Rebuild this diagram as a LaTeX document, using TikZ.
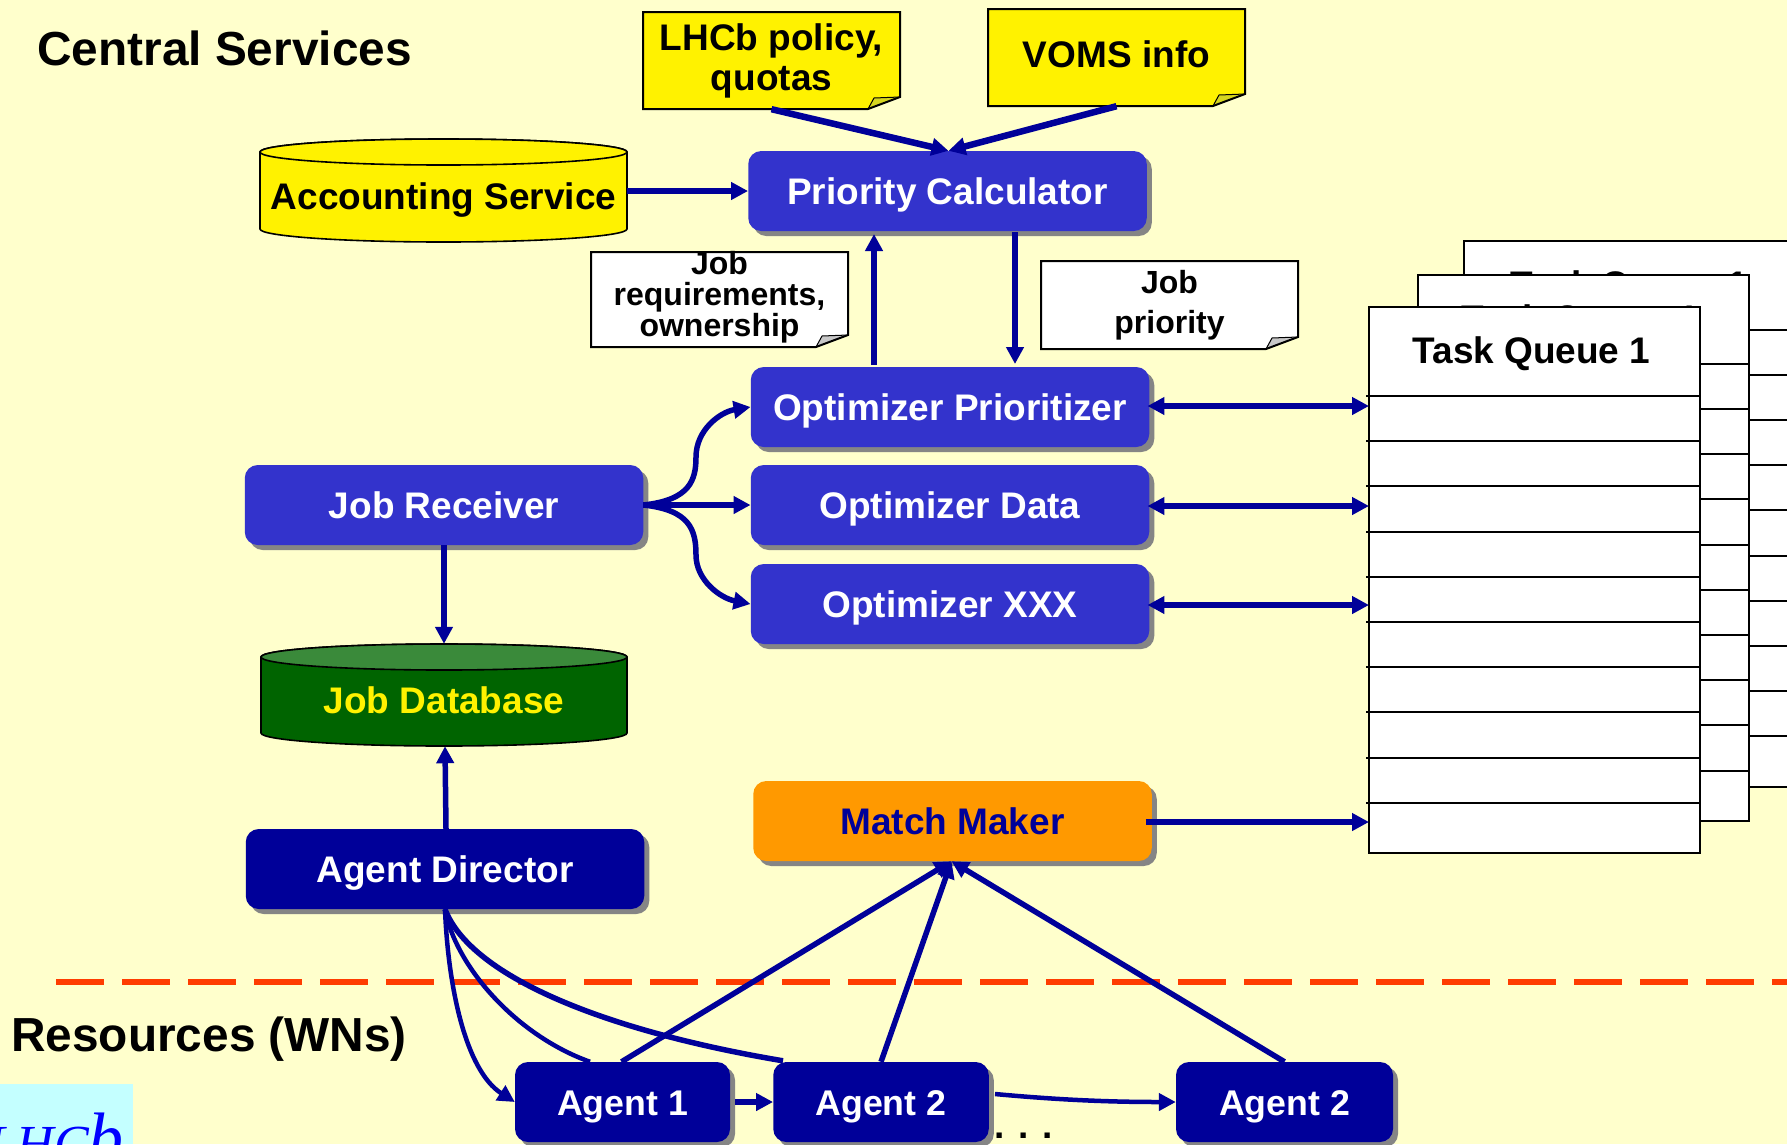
\documentclass[tikz,border=0pt]{standalone}
\usepackage{fontspec}
\setmainfont{Liberation Sans}
\newfontfamily\logofont{Liberation Serif}
\usetikzlibrary{arrows.meta,calc,shadows}
\definecolor{bgc}{HTML}{FFFFCC}
\definecolor{bluebox}{HTML}{3333CC}
\definecolor{navyb}{HTML}{000099}
\definecolor{arrowc}{HTML}{000099}
\definecolor{foldy}{HTML}{D6D620}
\definecolor{foldw}{HTML}{C8C8C8}
\definecolor{dashc}{HTML}{FF3C00}
\definecolor{topgreen}{HTML}{3A8A3A}
\definecolor{bodygreen}{HTML}{006400}
\definecolor{logobg}{HTML}{C4FFFF}
\definecolor{orangeb}{HTML}{FF9900}
\definecolor{shadowc}{HTML}{858585}
\tikzset{
  txt/.style={font=\bfseries\fontsize{37}{38}\selectfont,align=center,inner sep=0pt},
  head/.style={font=\bfseries\fontsize{47.8}{50}\selectfont,inner sep=0pt,anchor=west},
  boxbase/.style={rounded corners=13pt,minimum width=398.5pt,minimum height=80pt,inner sep=0pt,
     font=\bfseries\fontsize{37}{38}\selectfont,align=center,text height=27pt,text depth=0pt,
     general shadow={shadow xshift=5pt,shadow yshift=-5pt,fill=shadowc}},
  bluenode/.style={boxbase,fill=bluebox,text=white},
  navynode/.style={boxbase,fill=navyb,text=white},
  agentnode/.style={navynode,minimum height=80pt,font=\bfseries\fontsize{35.7}{38}\selectfont},
  orangenode/.style={boxbase,fill=orangeb,text=navyb},
  arr/.style={draw=arrowc,line width=5.5pt,-{Triangle[width=17pt,length=17pt]}},
  darr/.style={draw=arrowc,line width=5.5pt,{Triangle[width=17pt,length=17pt]}-{Triangle[width=17pt,length=17pt]}},
  thin arr/.style={draw=arrowc,line width=4.5pt,-{Triangle[width=17pt,length=17pt]}},
  line/.style={draw=arrowc,line width=4.5pt},
  noteline/.style={draw=black,line width=2pt,line join=miter},
  rowline/.style={draw=black,line width=2pt},
}
\newcommand{\paper}[6]{% x0,y0,x1,y1,paper colour,fold colour
  \fill[#5] (#1,#2) -- (#3,#2) -- (#3,#4-12) -- (#3-32,#4) -- (#1,#4) -- cycle;
  \fill[#6] (#3,#4-12) -- (#3-32,#4) -- (#3-26,#4-11) -- cycle;
  \draw[noteline] (#1,#2) -- (#3,#2) -- (#3,#4-12) -- (#3-32,#4) -- (#1,#4) -- cycle;
  \draw[black,line width=1pt] (#3,#4-12) -- (#3-26,#4-11) -- (#3-32,#4);
}
\newcommand{\drum}[6]{% x0,y0,x1,y1,body,top
  \pgfmathsetmacro{\rxv}{(#3-#1)/2}
  \filldraw[fill=#5,draw=black,line width=1.6pt] (#1,#2+13) -- (#1,#4-13)
     arc[start angle=180,end angle=360,x radius=\rxv pt,y radius=13pt] -- (#3,#2+13)
     arc[start angle=0,end angle=180,x radius=\rxv pt,y radius=13pt] -- cycle;
  \filldraw[fill=#6,draw=black,line width=1.6pt] ({(#1+#3)/2},#2+13) ellipse[x radius=\rxv pt,y radius=13pt];
}
\newcommand{\queue}[6]{% x0,y0,x1,y1,firstrow,rowx0
  \filldraw[fill=white,draw=black,line width=2pt] (#1,#2) rectangle (#3,#4);
  \node[txt] at ({(#1+#3)/2-3},#2+46.5) {Task Queue 1};
  \foreach \k in {0,...,9} {
    \draw[rowline] (#6,{#5+\k*45.2}) -- (#3,{#5+\k*45.2});
  }
}
\begin{document}
\begin{tikzpicture}[x=1pt,y=-1pt]
\useasboundingbox (0,0) rectangle (1787,1144);
\fill[bgc] (0,0) rectangle (1787,1144);

% logo
\fill[logobg] (0,1084) rectangle (133,1144);
\begin{scope}
  \clip (0,1084) rectangle (133,1144);
  \node[inner sep=0pt,anchor=base east,text=blue] (logo) at (124,1161) {\logofont\itshape\fontsize{52}{52}\selectfont LHC\fontsize{70}{70}\selectfont b};
\end{scope}

% headings
\node[head] (central) at (37,48) {Central Services};
\node[head] (resources) at (11,1039) {Resources (WNs)};

% task queues (back to front)
\queue{1464}{241}{1800}{787}{329.5}{1749}
\queue{1418}{275}{1749}{821}{363.7}{1699}
\queue{1369}{307}{1700}{853}{396}{1366}

% notes
\paper{643}{12}{900}{109}{yellow}{foldy}
\paper{988}{9}{1245}{106}{yellow}{foldy}
\paper{591}{252}{848}{347}{white}{foldw}
\paper{1041}{261}{1298}{349}{white}{foldw}
\node[txt,font=\bfseries\fontsize{37}{40}\selectfont,minimum width=257pt,minimum height=97pt] (lhcb) at (771.5,60.5) {LHCb policy,\\quotas};
\node[txt,minimum width=257pt,minimum height=103pt] (voms) at (1116.5,54.5) {VOMS info};
\node[txt,font=\bfseries\fontsize{32}{31}\selectfont,minimum width=257pt,minimum height=95pt] (jobreq) at (719.5,297) {Job\\requirements,\\ownership};
\node[txt,font=\bfseries\fontsize{32}{40}\selectfont,minimum width=257pt,minimum height=88pt] (jobprio) at (1169.5,305) {Job\\priority};

% cylinders
\drum{260}{139}{627}{242}{yellow}{yellow}
\node[txt,text height=27pt,text depth=0pt,minimum width=367pt,minimum height=103pt] (acc) at (443.5,196) {Accounting Service};
\drum{261}{644}{627}{746}{bodygreen}{topgreen}
\node[txt,text=yellow,minimum width=366pt,minimum height=102pt] (jobdb) at (444,700) {Job Database};

% boxes
\node[bluenode] (pc) at (947.5,191) {Priority Calculator};
\node[bluenode] (oprio) at (950,407) {Optimizer Prioritizer};
\node[bluenode] (odata) at (950,505) {Optimizer Data};
\node[bluenode] (oxxx) at (950,604) {Optimizer XXX};
\node[bluenode] (jr) at (444,505) {Job Receiver};
\node[navynode] (ad) at (445,869) {Agent Director};
\node[orangenode] (mm) at (952.5,821) {Match Maker};
\node[agentnode,minimum width=215pt] (a1) at (622.5,1102) {Agent 1};
\node[agentnode,minimum width=215.5pt] (a2) at (881,1102) {Agent 2};
\node[agentnode,minimum width=217pt] (a3) at (1284.5,1102) {Agent 2};
\node[inner sep=0pt,font=\bfseries\fontsize{37}{38}\selectfont] (dots) at (1024,1136) {. . .};

% dashed separator
\coordinate (dashL) at (56,982);
\coordinate (dashR) at (1787,982);
\draw[dashc,line width=6pt,dash pattern=on 48pt off 18pt] (dashL) -- (dashR);

% anchors on the queue's left side and the vertical arrows
\coordinate (qa) at (1369,406);
\coordinate (qb) at (1369,506);
\coordinate (qc) at (1369,605);
\coordinate (qd) at (1369,822);
\coordinate (upx) at (874,365);
\coordinate (upt) at (874,234);
\coordinate (dnx) at (1015,232);
\coordinate (dnt) at (1015,364);

% connectors
\draw[arr,line width=6.5pt] (lhcb.south) -- ([xshift=1pt]pc.north);
\draw[arr,line width=6.5pt] (voms.south) -- ([xshift=1pt]pc.north);
\draw[arr] (acc.east |- pc.west) -- (pc.west);
\draw[arr] (upx) -- (upt);
\draw[arr] (dnx) -- (dnt);

\draw[arr] (jr.east) .. controls (690,500) and (696,480) .. (696,457) .. controls (696,430) and (720,412) .. (oprio.west);
\draw[arr] (jr.east) -- (odata.west);
\draw[arr] (jr.east) .. controls (690,510) and (696,530) .. (696,555) .. controls (696,580) and (720,598) .. (oxxx.west);
\draw[darr] ([xshift=-2pt]oprio.east |- qa) -- (qa);
\draw[darr] ([xshift=-2pt]odata.east |- qb) -- (qb);
\draw[darr] ([xshift=-2pt]oxxx.east |- qc) -- (qc);
\draw[arr] ([xshift=-6pt]mm.east |- qd) -- (qd);
\draw[arr] (jr.south) -- ([yshift=5pt]jobdb.north);
\draw[arr] ([xshift=1pt]ad.north) -- ([xshift=1pt,yshift=5pt]jobdb.south);

\draw[thin arr] (ad.south) .. controls (448,985) and (465,1070) .. (a1.west);
\draw[line] (ad.south) .. controls (455,965) and (515,1035) .. ([xshift=-32.5pt]a1.north);
\draw[line,line width=5.5pt] (ad.south) .. controls (470,975) and (600,1030) .. ([xshift=-98pt,yshift=1pt]a2.north);
\draw[arr] ([xshift=-1pt]a1.north) -- ([xshift=-1pt]mm.south);
\draw[arr] (a2.north) -- ([xshift=-1pt]mm.south);
\draw[arr] (a3.north) -- ([xshift=-1pt]mm.south);
\draw[arr] (a1.east) ++(5,0) -- (a2.west);
\draw[thin arr] ([xshift=6pt,yshift=8pt]a2.east) .. controls (1060,1100) and (1110,1102) .. (a3.west);
\end{tikzpicture}
\end{document}
